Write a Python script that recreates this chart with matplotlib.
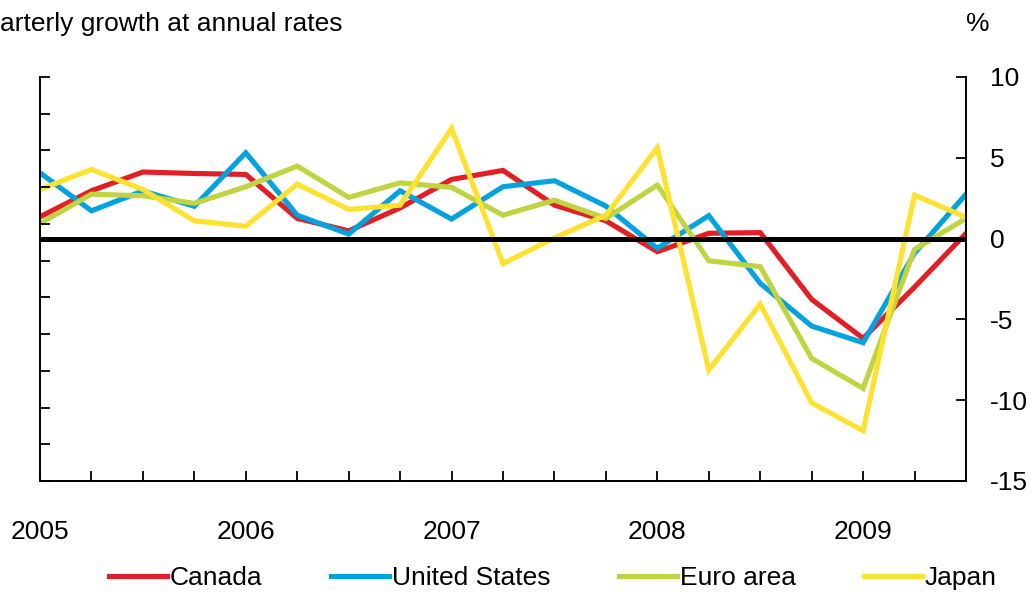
import matplotlib.pyplot as plt
import numpy as np

plt.rcParams['font.family'] = ['Liberation Sans', 'DejaVu Sans']
plt.rcParams['axes.unicode_minus'] = False

# 2005Q1 .. 2009Q3
quarters = list(range(19))
years = ['2005', '2006', '2007', '2008', '2009']

canada = [1.35, 2.96, 4.12, 4.03, 3.97, 1.25, 0.48, 1.9, 3.66, 4.22,
          2.07, 1.1, -0.81, 0.33, 0.37, -3.76, -6.17, -3.0, 0.32]
united_states = [4.07, 1.72, 2.95, 2.0, 5.31, 1.45, 0.28, 2.96, 1.21, 3.21,
                 3.58, 2.01, -0.6, 1.42, -2.77, -5.41, -6.44, -0.9, 2.75]
euro_area = [0.94, 2.75, 2.65, 2.18, 3.21, 4.49, 2.55, 3.45, 3.17, 1.45,
             2.38, 1.25, 3.31, -1.37, -1.74, -7.41, -9.27, -0.67, 1.25]
japan = [3.04, 4.28, 3.04, 1.1, 0.77, 3.37, 1.81, 2.07, 6.82, -1.55,
         0.05, 1.45, 5.62, -8.13, -4.05, -10.16, -11.89, 2.69, 1.32]

series = [('Canada', canada, '#E31E24'),
          ('United States', united_states, '#00A3E0'),
          ('Euro area', euro_area, '#BFD440'),
          ('Japan', japan, '#FFE12F')]

FS = 19

fig = plt.figure(figsize=(10.34, 5.97), dpi=100)
ax = fig.add_axes([40 / 1034, 1 - 481 / 597, 926 / 1034, 404 / 597])

# left spine has its own unlabelled ticks (made first: twinx resets ax ticks)
axl = ax.twinx()
axl.set_ylim(0, 11)
axl.yaxis.tick_left()
axl.set_yticks(range(12))
axl.set_yticklabels([])
axl.tick_params(axis='y', direction='in', length=7, width=1.3)
for s in ['top', 'right', 'bottom', 'left']:
    axl.spines[s].set_visible(False)

for name, vals, col in series:
    ax.plot(quarters, vals, color=col, lw=3.7, label=name, solid_joinstyle='miter')

ax.axhline(0, color='black', lw=3.6, zorder=5)

ax.set_xlim(0, 18)
ax.set_ylim(-15, 10)

# right axis labels
ax.yaxis.tick_right()
ax.set_yticks([-15, -10, -5, 0, 5, 10])
ax.tick_params(axis='y', direction='in', length=7, width=1.3, pad=17,
               labelsize=FS, right=True, left=False, labelright=True, labelleft=False)

# bottom: a tick each quarter, year labels at Q1
ax.set_xticks(quarters)
ax.set_xticklabels([years[q // 4] if q % 4 == 0 else '' for q in quarters])
ax.tick_params(axis='x', direction='in', length=7, width=1.3, pad=28, labelsize=FS)

ax.spines['top'].set_visible(False)
for s in ['left', 'right', 'bottom']:
    ax.spines[s].set_linewidth(1.4)

fig.text(0.0, 1 - 24 / 597, 'arterly growth at annual rates', fontsize=FS,
         ha='left', va='center')
fig.text(978 / 1034, 1 - 24 / 597, '%', fontsize=FS, ha='center', va='center')

fig.legend(loc='center', bbox_to_anchor=(0.535, 1 - 578 / 597), ncol=4,
           frameon=False, fontsize=FS, handlelength=2.2, handletextpad=0.1,
           columnspacing=2.6, borderaxespad=0)

fig.savefig('out.png', dpi=100)
